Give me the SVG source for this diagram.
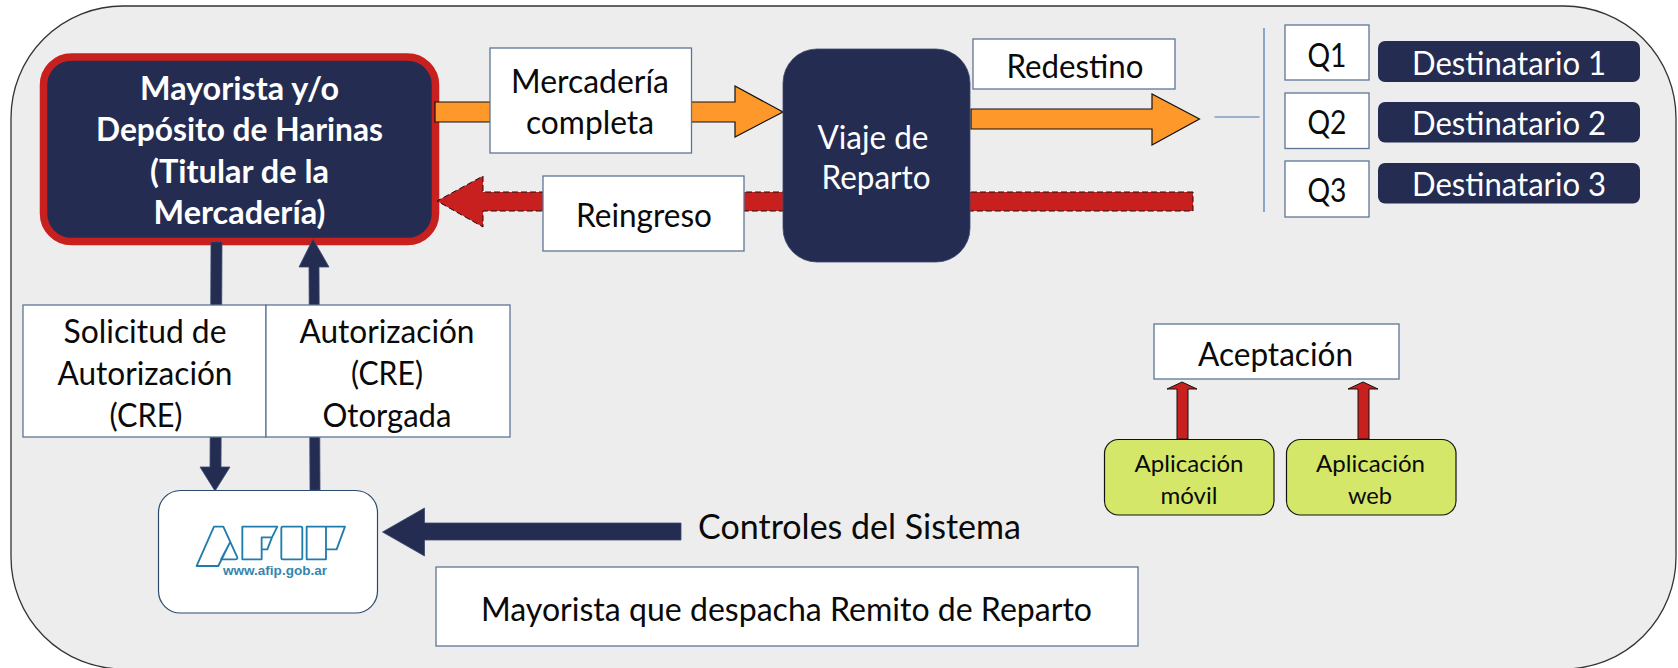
<svg xmlns="http://www.w3.org/2000/svg" width="1678" height="668" viewBox="0 0 1678 668">
<style>
text{font-family:Lato,"Liberation Sans",sans-serif;text-anchor:middle;fill:#0a0a0a}
.box{fill:#fff;stroke:#5d7595;stroke-width:1.3}
.dark{fill:#242c52}
.w{fill:#fff}
.t34{font-size:32px}
.t36{font-size:35px}
.t26{font-size:24px}
.b{font-weight:700}
.or{fill:#fe982b;stroke:#111;stroke-width:1.2}
.rd{fill:#c8201e;stroke:#111;stroke-width:1;stroke-dasharray:6 3}
.rs{fill:#c8201e;stroke:#111;stroke-width:1}
.nv{fill:#242c52;stroke:#3a4a70;stroke-width:.8}
.app{fill:#d4e768;stroke:#111;stroke-width:1.2}
.logo{fill:none;stroke:#1f7dab;stroke-width:5.5;stroke-linejoin:round}
</style>
<rect width="1678" height="668" fill="#fff"/>
<rect id="panel" x="11" y="6" width="1665" height="663" rx="112" fill="#ededed" stroke="#333" stroke-width="1.3"/>

<g id="mayorista">
<rect x="43.500" y="57" width="392" height="184.500" rx="28" class="dark" stroke="#c8201e" stroke-width="7.500"/>
<text class="t34 b w" x="239.500" y="100" textLength="199" lengthAdjust="spacingAndGlyphs">Mayorista y/o</text>
<text class="t34 b w" x="239.500" y="141" textLength="287" lengthAdjust="spacingAndGlyphs">Depósito de Harinas</text>
<text class="t34 b w" x="239.500" y="183" textLength="179" lengthAdjust="spacingAndGlyphs">(Titular de la</text>
<text class="t34 b w" x="239.500" y="224" textLength="172" lengthAdjust="spacingAndGlyphs">Mercadería)</text>
</g>

<g id="connectors">
<polygon class="or" points="435,102 735,102 735,86 783,112 735,137 735,122 435,122"/>
<polygon class="or" points="971,109 1152,109 1152,94 1199.500,119 1152,145 1152,129 971,129"/>
<polygon class="rd" points="1193,192 483,192 483,176 437,201 483,227 483,211 1193,211"/>
<line x1="1214.500" y1="117" x2="1259.500" y2="117" stroke="#4a74b0" stroke-width="1.2"/>
<line x1="1264" y1="28" x2="1264" y2="212" stroke="#4a74b0" stroke-width="1.2"/>
<polygon class="nv" points="211,242 222,242 221,467 230,467 215,491 200,467 210,467"/>
<polygon class="nv" points="313,239 329,267 319,267 320,490 310,490 309,267 299,267"/>
<polygon class="nv" points="681,523 681,540 424.500,540 424.500,556 382.500,532 424.500,508 424.500,523"/>
<polygon class="rs" points="1182,382 1197,389 1188,389 1188,439 1177,439 1177,389 1167,389"/>
<polygon class="rs" points="1363,382 1378,389 1369,389 1369,439 1358,439 1358,389 1348,389"/>
</g>

<g id="mercaderia">
<rect class="box" x="490" y="48" width="201.500" height="105"/>
<text class="t34" x="590" y="93" textLength="158" lengthAdjust="spacingAndGlyphs">Mercadería</text>
<text class="t34" x="590" y="134" textLength="128" lengthAdjust="spacingAndGlyphs">completa</text>
</g>

<g id="viaje">
<rect class="dark" x="783" y="49" width="187" height="213" rx="34" stroke="#3a4a70" stroke-width=".8"/>
<text class="t34 w" x="873" y="149" textLength="111" lengthAdjust="spacingAndGlyphs">Viaje de</text>
<text class="t34 w" x="876" y="189" textLength="109" lengthAdjust="spacingAndGlyphs">Reparto</text>
</g>

<g id="redestino">
<rect class="box" x="973" y="39" width="202" height="50"/>
<text class="t34" x="1075" y="78" textLength="137" lengthAdjust="spacingAndGlyphs">Redestino</text>
</g>

<g id="reingreso">
<rect class="box" x="543" y="176" width="201" height="75"/>
<text class="t34" x="644" y="227" textLength="136" lengthAdjust="spacingAndGlyphs">Reingreso</text>
</g>

<g id="q1"><rect class="box" x="1285" y="25" width="84" height="55"/><text class="t34" x="1327" y="67" textLength="39" lengthAdjust="spacingAndGlyphs">Q1</text></g>
<g id="q2"><rect class="box" x="1285" y="93" width="84" height="55.500"/><text class="t34" x="1327" y="134" textLength="39" lengthAdjust="spacingAndGlyphs">Q2</text></g>
<g id="q3"><rect class="box" x="1285" y="161" width="84" height="56"/><text class="t34" x="1327" y="202" textLength="39" lengthAdjust="spacingAndGlyphs">Q3</text></g>

<g id="destinatario1"><rect class="dark" x="1378" y="41" width="262" height="41" rx="7"/><text class="t34 w" x="1509" y="75" textLength="194" lengthAdjust="spacingAndGlyphs">Destinatario 1</text></g>
<g id="destinatario2"><rect class="dark" x="1378" y="102" width="262" height="40.500" rx="7"/><text class="t34 w" x="1509" y="135" textLength="194" lengthAdjust="spacingAndGlyphs">Destinatario 2</text></g>
<g id="destinatario3"><rect class="dark" x="1378" y="163" width="262" height="40.500" rx="7"/><text class="t34 w" x="1509" y="196" textLength="194" lengthAdjust="spacingAndGlyphs">Destinatario 3</text></g>

<g id="solicitud">
<rect class="box" x="23" y="305" width="243" height="132"/>
<text class="t34" x="145" y="343" textLength="163" lengthAdjust="spacingAndGlyphs">Solicitud de</text>
<text class="t34" x="145" y="385" textLength="175" lengthAdjust="spacingAndGlyphs">Autorización</text>
<text class="t34" x="146" y="427" textLength="73" lengthAdjust="spacingAndGlyphs">(CRE)</text>
</g>

<g id="autorizacion">
<rect class="box" x="266" y="305" width="244" height="132"/>
<text class="t34" x="387" y="343" textLength="175" lengthAdjust="spacingAndGlyphs">Autorización</text>
<text class="t34" x="387" y="385" textLength="72" lengthAdjust="spacingAndGlyphs">(CRE)</text>
<text class="t34" x="387" y="427" textLength="129" lengthAdjust="spacingAndGlyphs">Otorgada</text>
</g>

<g id="afip">
<rect x="158.500" y="490.500" width="219" height="122.500" rx="22" fill="#fff" stroke="#2c4a70" stroke-width="1.2"/>
<g class="logo" transform="translate(140 480) scale(.3333)">
<path d="M170 258 L222 140 H250 L292 232 Q293 238 286 238 H243 L270 187 L235 258 Z"/>
<path d="M307 140 H412 L396 172 H365 V238 H307 Z M365 172 H396 L382 208 H365"/>
<rect x="424" y="140" width="63" height="98" rx="4"/>
<path d="M500 140 H615 L590 208 H558 V238 H500 Z M558 140 V208"/>
</g>
<text x="275" y="575" font-size="13" font-weight="700" textLength="104" lengthAdjust="spacingAndGlyphs" style="font-family:'Liberation Sans',sans-serif;fill:#3585ad">www.afip.gob.ar</text>
</g>

<g id="controles"><text class="t36" x="859.500" y="539" textLength="323" lengthAdjust="spacingAndGlyphs">Controles del Sistema</text></g>

<g id="despacha">
<rect class="box" x="436" y="567" width="702" height="79"/>
<text class="t34" x="786.500" y="621" textLength="611" lengthAdjust="spacingAndGlyphs">Mayorista que despacha Remito de Reparto</text>
</g>

<g id="aceptacion">
<rect class="box" x="1154" y="324" width="245" height="55"/>
<text class="t34" x="1275.500" y="366" textLength="155" lengthAdjust="spacingAndGlyphs">Aceptación</text>
</g>

<g id="app-movil">
<rect class="app" x="1104.500" y="439.500" width="169.500" height="75.500" rx="14"/>
<text class="t26" x="1189" y="472" textLength="109" lengthAdjust="spacingAndGlyphs">Aplicación</text>
<text class="t26" x="1189" y="504" textLength="57" lengthAdjust="spacingAndGlyphs">móvil</text>
</g>

<g id="app-web">
<rect class="app" x="1286.500" y="439.500" width="169.500" height="75.500" rx="14"/>
<text class="t26" x="1370.500" y="472" textLength="109" lengthAdjust="spacingAndGlyphs">Aplicación</text>
<text class="t26" x="1370" y="504" textLength="44" lengthAdjust="spacingAndGlyphs">web</text>
</g>
</svg>
